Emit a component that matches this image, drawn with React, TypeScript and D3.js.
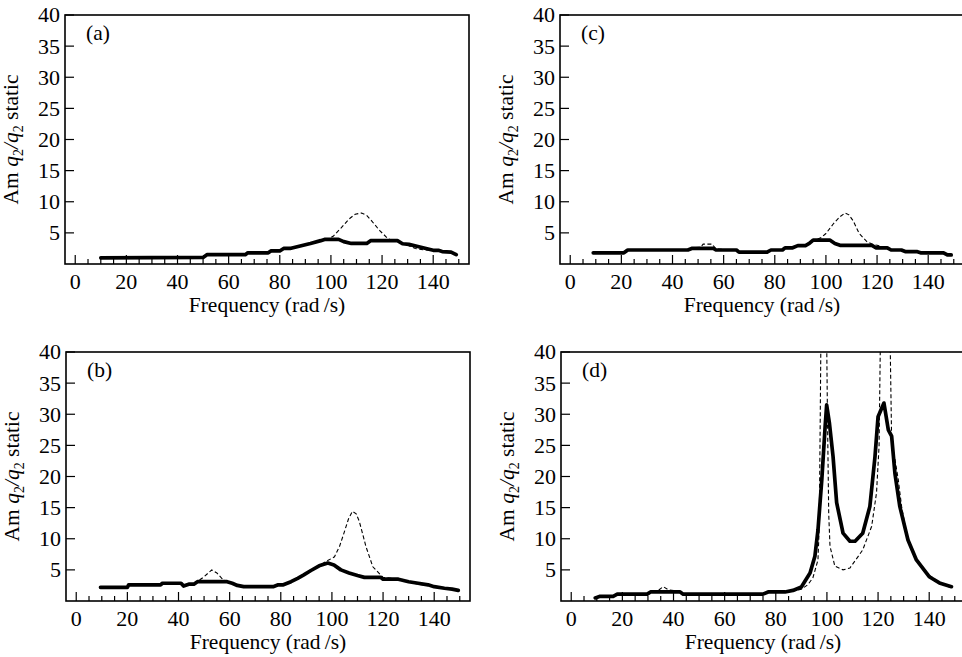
import React from "react";
import * as d3 from "d3";

type Pt = [number, number];

const xTickLabels = [0, 20, 40, 60, 80, 100, 120, 140];
const xMinorTicks = d3.range(0, 151, 5);
const yTickLabels = [5, 10, 15, 20, 25, 30, 35, 40];
const panelLabels = ["(a)", "(b)", "(c)", "(d)"];
const xTitle = "Frequency (rad\u2009/s)";

const solidA: Pt[] = [[10,1.0],[50,1.05],[51.5,1.5],[66.5,1.5],[67.5,1.8],[75.5,1.8],[76.5,2.1],[80,2.1],[81.5,2.5],[84,2.5],[88,2.9],[92,3.3],[96,3.75],[97.5,3.95],[103,3.95],[105,3.6],[108,3.3],[114,3.3],[115.5,3.75],[126,3.75],[128,3.25],[130.5,3.15],[134,2.8],[138,2.4],[140,2.2],[142,2.2],[143.5,2.0],[147,1.9],[149,1.5]];
const dashedA: Pt[] = [[10,1.15],[50,1.2],[52,1.5],[66.5,1.5],[68,1.8],[76,1.8],[77,2.1],[80,2.1],[82,2.5],[88,2.9],[92,3.3],[96,3.75],[99,4.0],[101,4.5],[104,5.8],[107,7.2],[109.5,8.0],[112,8.2],[114,7.8],[116,6.9],[119,5.4],[122,4.2],[124,3.7],[127,3.6],[130,3.0],[133,2.5],[136,2.3],[140,2.2],[143,2.0],[147,1.9],[149,1.5]];

const solidB: Pt[] = [[9.5,2.2],[20,2.2],[20.5,2.6],[33,2.6],[33.7,2.85],[41,2.85],[42,2.4],[44,2.7],[46,2.7],[47.4,3.1],[59,3.1],[61,2.85],[63,2.5],[65.5,2.3],[77,2.3],[79,2.6],[81,2.6],[84,3.1],[86.6,3.65],[89,4.2],[91.8,4.9],[95,5.65],[98.4,6.1],[100.8,5.8],[103.5,5.0],[106.7,4.5],[110,4.1],[112.7,3.8],[119,3.8],[120,3.5],[126,3.5],[130,3.1],[133.7,2.85],[137.6,2.6],[140,2.3],[144,2.05],[147,1.9],[149.4,1.7]];
const dashedB: Pt[] = [[9.5,2.2],[20,2.2],[20.5,2.6],[33,2.6],[33.7,2.85],[41,2.85],[42,2.4],[44,2.7],[46,2.7],[48,3.3],[50,3.9],[53,5.0],[55,4.5],[57,3.6],[59,3.1],[61,2.85],[63,2.5],[65.5,2.3],[77,2.3],[79,2.6],[81,2.6],[84,3.1],[86.6,3.65],[89,4.2],[91.8,4.9],[95,5.65],[97.5,6.3],[101,7.1],[103,8.8],[104.7,10.9],[106.5,13.2],[108,14.4],[109.5,14.0],[110.7,12.8],[112,10.8],[113.3,8.75],[116,5.5],[119,4.2],[120,3.8],[126,3.5],[130,3.1],[133.7,2.7],[137.6,2.5],[140,2.3],[144,2.05],[147,1.9],[149.4,1.7]];

const solidC: Pt[] = [[9,1.8],[21,1.8],[22.5,2.25],[46,2.25],[47.5,2.5],[56,2.5],[57,2.25],[65,2.25],[66,1.9],[77,1.9],[78.5,2.25],[83,2.25],[84,2.6],[87,2.6],[89,2.95],[92,2.95],[93.5,3.3],[95,3.85],[101.5,3.85],[103.5,3.3],[105.5,3.0],[118,3.0],[119.5,2.6],[124,2.6],[125.5,2.25],[129.5,2.25],[131,2.0],[135.5,2.0],[137,1.8],[146,1.8],[147.5,1.45],[149,1.45]];
const dashedC: Pt[] = [[9,1.8],[21,1.8],[22.5,2.25],[46,2.25],[48,2.6],[51,2.7],[52,3.2],[55.5,3.2],[57,2.4],[65,2.25],[66,1.9],[77,1.9],[78.5,2.25],[83,2.25],[84,2.6],[87,2.6],[89,2.95],[92,2.95],[93.5,3.3],[96,3.9],[98,4.2],[100,4.9],[103,6.5],[105.5,7.6],[107.5,8.2],[109,7.9],[110.7,6.9],[113,4.9],[116,3.6],[118,3.2],[120,3.0],[124,2.6],[125.5,2.25],[129.5,2.25],[131,2.0],[135.5,2.0],[137,1.8],[146,1.8],[147.5,1.45],[149,1.45]];

const solidD: Pt[] = [[9.4,0.5],[11.3,0.75],[16.4,0.75],[18,1.1],[29.7,1.1],[31,1.45],[42.6,1.45],[43.8,1.1],[75,1.1],[77,1.45],[83.6,1.45],[86.7,1.7],[90,2.25],[93.4,4.5],[95.3,7.2],[96.5,11.4],[98,19.5],[99.3,28],[99.9,31.5],[101,28.5],[102.4,23.2],[103.8,15.8],[106.3,10.9],[109,9.6],[111,9.6],[114,10.9],[116.8,15.2],[118.8,23.2],[120,29.6],[122.3,31.8],[124,27.5],[125.3,26.5],[126.6,20.5],[128.5,15.2],[131.7,9.8],[135,6.6],[140,3.9],[144,2.9],[148.7,2.3]];
const dashedD: Pt[] = [[9.4,0.6],[11.3,0.85],[16.4,0.85],[18,1.2],[29.7,1.2],[31,1.5],[34,1.7],[36,2.3],[38,1.8],[42.6,1.5],[43.8,1.1],[75,1.1],[77,1.45],[83.6,1.45],[86.7,1.6],[90,1.9],[92.5,2.6],[94.5,3.7],[96.5,6.6],[97,12],[97.4,30],[97.8,50],[99.7,50],[100.2,30],[100.7,14],[101.2,8.8],[103.1,5.6],[106.3,5.0],[109,5.3],[114,8.2],[117.5,12],[119.4,17.4],[120.4,25],[121,45],[124.6,45],[125.3,26],[127.9,19.5],[129.2,15.2],[131.1,10.9],[134.4,7.2],[138.9,4.5],[144.1,2.9],[148.7,2.1]];

const panelSolid = [solidA, solidB, solidC, solidD];
const panelDashed = [dashedA, dashedB, dashedC, dashedD];
const panelLefts = [65, 66, 560, 561];
const panelTops = [15, 352, 15, 352];

const W = 404;
const H = 249;
const FONT = '"Liberation Serif", "DejaVu Serif", "Times New Roman", serif';
const tick = { fontFamily: FONT, fontSize: "22px" };
const title = { fontFamily: FONT, fontSize: "21.5px" };

function Panel({ idx }: { idx: number }) {
  const left = panelLefts[idx];
  const top = panelTops[idx];
  const bottom = top + H;
  const x = d3.scaleLinear().domain([-4, 154]).range([left, left + W]);
  const y = d3.scaleLinear().domain([0, 40]).range([bottom, top]);
  const line = d3.line<Pt>().x((d) => x(d[0])).y((d) => y(d[1]));
  const clipId = `clip-${idx}`;
  return (
    <g>
      <defs>
        <clipPath id={clipId}>
          <rect x={left} y={top} width={W} height={H + 4} />
        </clipPath>
      </defs>
      <rect x={left} y={top} width={W} height={H} fill="none" stroke="#000" strokeWidth={1.6} />
      {yTickLabels.map((v) => (
        <g key={`y${v}`}>
          <line x1={left} x2={left + 9} y1={y(v)} y2={y(v)} stroke="#000" strokeWidth={1.2} />
          <text x={left - 5} y={y(v)} dy="0.34em" textAnchor="end" style={tick}>
            {v}
          </text>
        </g>
      ))}
      {xMinorTicks.map((v) => (
        <line key={`xt${v}`} x1={x(v)} x2={x(v)} y1={bottom} y2={bottom - (v % 20 === 0 ? 9 : 5)} stroke="#000" strokeWidth={1.2} />
      ))}
      {xTickLabels.map((v) => (
        <text key={`xl${v}`} x={x(v)} y={bottom + 25} textAnchor="middle" style={tick}>
          {v}
        </text>
      ))}
      <text x={left + W / 2} y={bottom + 48} textAnchor="middle" style={title}>
        {xTitle}
      </text>
      <text
        transform={`translate(${left - 47},${(top + bottom) / 2}) rotate(-90)`}
        textAnchor="middle"
        style={title}
      >
        <tspan>Am </tspan>
        <tspan fontStyle="italic">q</tspan>
        <tspan style={{ fontSize: "14px" }} dy={5}>2</tspan>
        <tspan fontStyle="italic" dy={-5}>/q</tspan>
        <tspan style={{ fontSize: "14px" }} dy={5}>2</tspan>
        <tspan dy={-5}> static</tspan>
      </text>
      <text x={left + 21} y={top + 25} style={title}>
        {panelLabels[idx]}
      </text>
      <g clipPath={`url(#${clipId})`}>
        <path d={line(panelDashed[idx]) || ""} fill="none" stroke="#000" strokeWidth={1.1} strokeDasharray="4,2.5" />
        <path d={line(panelSolid[idx]) || ""} fill="none" stroke="#000" strokeWidth={3.7} strokeLinejoin="round" strokeLinecap="round" />
      </g>
    </g>
  );
}

export default function App() {
  return (
    <svg
      width={962}
      height={657}
      style={{ position: "absolute", left: 0, top: 0, background: "#fff" }}
    >
      <rect width={962} height={657} fill="#fff" />
      {[0, 1, 2, 3].map((i) => (
        <Panel key={i} idx={i} />
      ))}
    </svg>
  );
}
